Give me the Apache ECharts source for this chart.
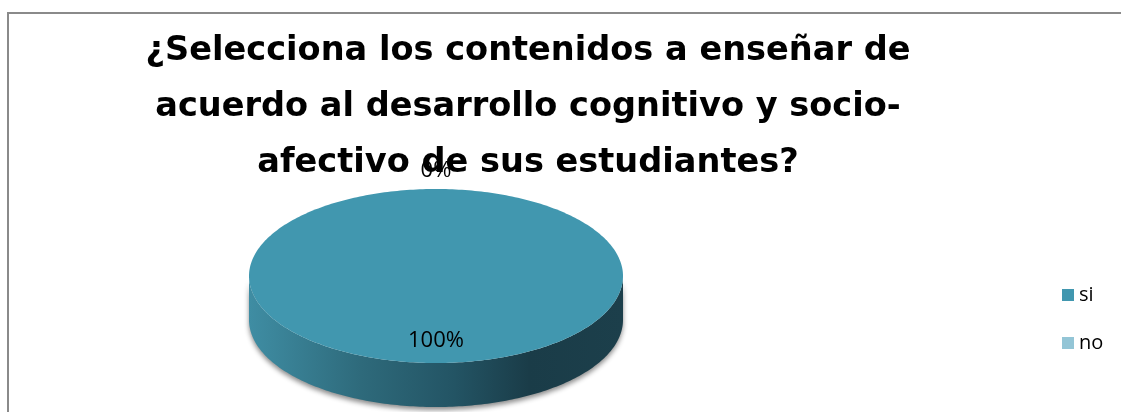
<!DOCTYPE html>
<html>
<head>
<meta charset="utf-8">
<script src="https://cdn.jsdelivr.net/npm/echarts@6/dist/echarts.min.js"></script>
<style>
html,body{margin:0;padding:0;background:#fff;overflow:hidden;}
#frame{position:absolute;left:7px;top:12px;width:1200px;height:500px;border-top:2px solid #8a8a8a;border-left:2px solid #8a8a8a;}
#chart{position:absolute;left:0;top:0;width:1121px;height:412px;}
</style>
</head>
<body>
<div id="frame"></div>
<div id="chart"></div>
<script>
// ---- data ----
const titleLines = ['¿Selecciona los contenidos a enseñar de', 'acuerdo al desarrollo cognitivo y socio-', 'afectivo de sus estudiantes?'];
const categories = ['si', 'no'];
const values = [100, 0];
const colors = ['#4197AF', '#93C5D6'];

// ---- layout ----
const PIE = {cx: 436, cy: 276, rx: 187, ry: 87, depth: 44};
const total = values.reduce((a, b) => a + b, 0);
const starts = [];
{ let acc = 0; values.forEach(v => { starts.push(acc / total * Math.PI * 2); acc += v; }); }

function pt(theta, dy) {
  return [PIE.cx + PIE.rx * Math.sin(theta), PIE.cy - PIE.ry * Math.cos(theta) + (dy || 0)];
}
function arc(a0, a1, dy) {
  const pts = [];
  const n = Math.max(2, Math.ceil((a1 - a0) / (Math.PI / 180)));
  for (let i = 0; i <= n; i++) pts.push(pt(a0 + (a1 - a0) * i / n, dy));
  return pts;
}
const sideGradient = {
  type: 'linear', global: true,
  x: PIE.cx - PIE.rx, y: 0, x2: PIE.cx + PIE.rx, y2: 0,
  colorStops: [
    {offset: 0, color: '#3F8DA3'},
    {offset: 0.3, color: '#2E6A7B'},
    {offset: 0.55, color: '#235464'},
    {offset: 0.75, color: '#1A3C48'},
    {offset: 1, color: '#1C3F4B'}
  ]
};

function renderSlice(params, api) {
  const i = params.seriesIndex;
  const v = api.value(0);
  const a0 = starts[i];
  const a1 = a0 + v / total * Math.PI * 2;
  const children = [];
  const s0 = Math.max(a0, Math.PI / 2), s1 = Math.min(a1, Math.PI * 1.5);
  if (s1 > s0) {
    const top = arc(s0, s1, 0);
    const bot = arc(s0, s1, PIE.depth).reverse();
    children.push({
      type: 'polygon', shape: {points: top.concat(bot)},
      style: {fill: sideGradient, shadowBlur: 5, shadowColor: 'rgba(0,0,0,0.45)', shadowOffsetY: 3}
    });
  }
  if (a1 > a0) {
    const pts = (a1 - a0 >= Math.PI * 2 - 1e-9) ? arc(a0, a1, 0) : [[PIE.cx, PIE.cy]].concat(arc(a0, a1, 0));
    children.push({type: 'polygon', shape: {points: pts}, style: {fill: colors[i]}});
  }
  const mid = (a0 + a1) / 2;
  const share = v / total;
  const f = share < 0.05 ? 1.21 : 0.74;
  children.push({
    type: 'text', z2: 10,
    x: PIE.cx + PIE.rx * f * Math.sin(mid),
    y: PIE.cy - PIE.ry * f * Math.cos(mid),
    style: {text: Math.round(share * 100) + '%', fill: '#000', align: 'center', verticalAlign: 'middle',
            fontSize: 22, fontFamily: 'Open Sans'}
  });
  return {type: 'group', children};
}

const chart = echarts.init(document.getElementById('chart'), null, {renderer: 'canvas'});
chart.setOption({
  animation: false,
  backgroundColor: 'transparent',
  title: {
    text: titleLines.join('\n'),
    left: 523, top: 18, textAlign: 'center',
    textStyle: {fontFamily: 'DejaVu Sans', fontWeight: 'bold', fontSize: 33.6, lineHeight: 56, color: '#000'}
  },
  legend: {
    orient: 'vertical', left: 1057, top: 278, itemWidth: 12, itemHeight: 12, itemGap: 24,
    icon: 'rect',
    textStyle: {fontFamily: 'Open Sans', fontSize: 20, lineHeight: 24, color: '#000'},
    data: categories
  },
  series: categories.map((c, i) => ({
    type: 'custom', name: c, coordinateSystem: 'none',
    itemStyle: {color: colors[i]},
    data: [[values[i]]],
    renderItem: renderSlice
  }))
});
</script>
</body>
</html>
